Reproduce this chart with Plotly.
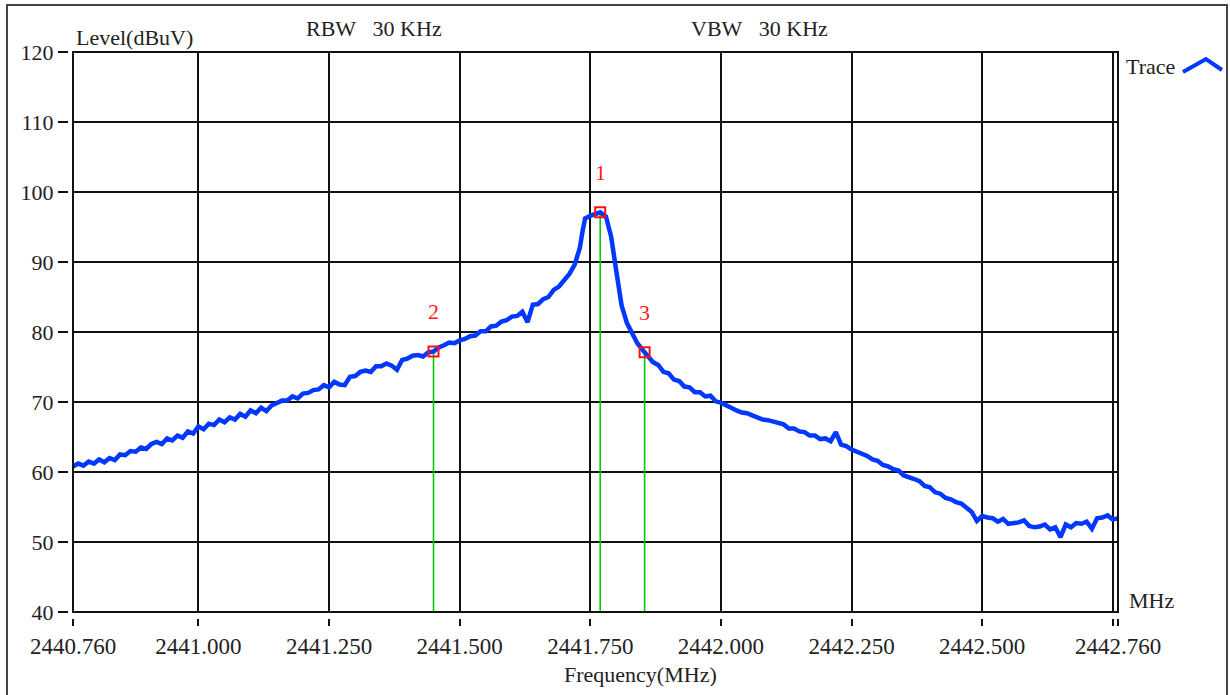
import plotly.graph_objects as go

# ---------------- data ----------------
freq_mhz = [
    2440.76, 2440.77, 2440.78, 2440.79, 2440.80, 2440.81, 2440.82, 2440.83, 2440.84, 2440.85,
    2440.86, 2440.87, 2440.88, 2440.89, 2440.90, 2440.91, 2440.92, 2440.93, 2440.94, 2440.95,
    2440.96, 2440.97, 2440.98, 2440.99, 2441.00, 2441.01, 2441.02, 2441.03, 2441.04, 2441.05,
    2441.06, 2441.07, 2441.08, 2441.09, 2441.10, 2441.11, 2441.12, 2441.13, 2441.14, 2441.15,
    2441.16, 2441.17, 2441.18, 2441.19, 2441.20, 2441.21, 2441.22, 2441.23, 2441.24, 2441.25,
    2441.26, 2441.27, 2441.28, 2441.29, 2441.30, 2441.31, 2441.32, 2441.33, 2441.34, 2441.35,
    2441.36, 2441.37, 2441.38, 2441.39, 2441.40, 2441.41, 2441.42, 2441.43, 2441.44, 2441.45,
    2441.46, 2441.47, 2441.48, 2441.49, 2441.50, 2441.51, 2441.52, 2441.53, 2441.54, 2441.55,
    2441.56, 2441.57, 2441.58, 2441.59, 2441.60, 2441.61, 2441.62, 2441.63, 2441.64, 2441.65,
    2441.66, 2441.67, 2441.68, 2441.69, 2441.70, 2441.71, 2441.72, 2441.73, 2441.735, 2441.74,
    2441.75, 2441.76, 2441.769, 2441.78, 2441.79, 2441.80, 2441.81, 2441.82, 2441.83, 2441.84,
    2441.854, 2441.86, 2441.87, 2441.88, 2441.89, 2441.90, 2441.91, 2441.92, 2441.93, 2441.94,
    2441.95, 2441.96, 2441.97, 2441.98, 2441.99, 2442.00, 2442.01, 2442.02, 2442.03, 2442.04,
    2442.05, 2442.06, 2442.07, 2442.08, 2442.09, 2442.10, 2442.11, 2442.12, 2442.13, 2442.14,
    2442.15, 2442.16, 2442.17, 2442.18, 2442.19, 2442.20, 2442.21, 2442.22, 2442.23, 2442.24,
    2442.25, 2442.26, 2442.27, 2442.28, 2442.29, 2442.30, 2442.31, 2442.32, 2442.33, 2442.34,
    2442.35, 2442.36, 2442.37, 2442.38, 2442.39, 2442.40, 2442.41, 2442.42, 2442.43, 2442.44,
    2442.45, 2442.46, 2442.47, 2442.48, 2442.49, 2442.50, 2442.51, 2442.52, 2442.53, 2442.54,
    2442.55, 2442.56, 2442.57, 2442.58, 2442.59, 2442.60, 2442.61, 2442.62, 2442.63, 2442.64,
    2442.65, 2442.66, 2442.67, 2442.68, 2442.69, 2442.70, 2442.71, 2442.72, 2442.73, 2442.74,
    2442.75, 2442.76,
]
level_dbuv = [
    60.8, 61.2, 60.9, 61.5, 61.2, 61.8, 61.4, 62.0, 61.7, 62.5,
    62.4, 63.0, 62.9, 63.5, 63.3, 64.0, 64.3, 64.0, 64.8, 64.5,
    65.2, 64.9, 65.8, 65.5, 66.5, 66.1, 66.9, 66.7, 67.5, 67.1,
    67.8, 67.5, 68.3, 67.9, 68.8, 68.4, 69.2, 68.7, 69.5, 69.8,
    70.2, 70.2, 70.8, 70.5, 71.2, 71.3, 71.7, 71.8, 72.4, 72.1,
    72.9, 72.5, 72.4, 73.6, 73.7, 74.3, 74.5, 74.3, 75.1, 75.1,
    75.5, 75.2, 74.6, 76.0, 76.2, 76.6, 76.7, 76.5, 77.1, 77.2,
    77.8, 78.1, 78.5, 78.4, 78.8, 79.0, 79.4, 79.5, 80.1, 80.1,
    80.8, 80.9, 81.5, 81.7, 82.2, 82.3, 82.9, 81.4, 83.9, 84.0,
    84.7, 85.0, 86.0, 86.5, 87.5, 88.3, 89.6, 92.0, 94.3, 96.2,
    96.6, 96.8, 97.1, 96.5, 93.6, 88.6, 83.8, 81.3, 79.7, 78.4,
    77.1, 76.6, 75.7, 75.3, 74.3, 74.1, 73.2, 73.0, 72.2, 72.1,
    71.4, 71.4, 70.8, 70.9, 70.1, 69.9, 69.5, 69.2, 68.8, 68.5,
    68.4, 68.1, 67.8, 67.5, 67.4, 67.2, 66.9, 66.8, 66.2, 66.2,
    65.8, 65.7, 65.2, 65.2, 64.7, 64.8, 64.4, 65.7, 63.9, 63.7,
    63.2, 62.9, 62.5, 62.3, 61.8, 61.6, 61.0, 60.8, 60.4, 60.2,
    59.5, 59.3, 59.0, 58.7, 58.0, 57.8, 57.1, 56.9, 56.3, 56.1,
    55.7, 55.5, 54.9, 54.3, 53.0, 53.7, 53.5, 53.4, 52.9, 53.3,
    52.6, 52.7, 52.8, 53.1, 52.3, 52.1, 52.2, 52.5, 51.8, 52.1,
    50.7, 52.5, 52.1, 52.7, 52.6, 52.9, 51.9, 53.4, 53.5, 53.8,
    53.2, 53.4,
]

marker_labels = ["1", "2", "3"]
marker_freq = [2441.769, 2441.45, 2441.854]
marker_level = [97.1, 77.2, 77.1]

x_tickvals = [2440.76, 2441.0, 2441.25, 2441.5, 2441.75, 2442.0, 2442.25, 2442.5, 2442.75, 2442.76]
x_ticktext = ["2440.760", "2441.000", "2441.250", "2441.500", "2441.750", "2442.000",
              "2442.250", "2442.500", "", "2442.760"]
y_tickvals = [40, 50, 60, 70, 80, 90, 100, 110, 120]

x_range = [2440.76, 2442.76]
y_range = [40, 120]

# ---------------- figure ----------------
SERIF = "Liberation Serif, Times New Roman, serif"
W, H = 1230, 695
L, R, T, B = 68, 112, 52, 77
pw, ph = W - L - R, H - T - B


def px(xp):
    return (xp - L) / pw


def py(yp):
    return (H - B - yp) / ph


fig = go.Figure()

# green marker drop lines
for f, lv in zip(marker_freq, marker_level):
    fig.add_trace(go.Scatter(x=[f, f], y=[y_range[0], lv], mode="lines",
                             line=dict(color="#00cc00", width=1.6),
                             showlegend=False, hoverinfo="skip"))

# main trace
fig.add_trace(go.Scatter(x=freq_mhz, y=level_dbuv, mode="lines", name="Trace",
                         line=dict(color="#0038ff", width=4.5), showlegend=False))

# markers
fig.add_trace(go.Scatter(x=marker_freq, y=marker_level, mode="markers",
                         marker=dict(symbol="square-open", size=10, color="#ff1010",
                                     line=dict(width=2, color="#ff1010")),
                         showlegend=False, hoverinfo="skip"))

for lab, f, lv in zip(marker_labels, marker_freq, marker_level):
    fig.add_annotation(x=f, y=lv, text=lab, showarrow=False, yshift=40,
                       font=dict(family=SERIF, size=22, color="#ff1a1a"))

dx0 = 5 / pw
dy0 = 6 / ph

fig.update_xaxes(range=x_range, domain=[dx0, 1], anchor="free", position=0,
                 tickvals=x_tickvals, ticktext=x_ticktext,
                 ticks="outside", ticklen=7, tickwidth=1.5, tickcolor="#111",
                 showgrid=True, gridcolor="#111", gridwidth=2,
                 showline=False, zeroline=False,
                 tickfont=dict(family=SERIF, size=23, color="#222"))
fig.update_yaxes(range=y_range, domain=[dy0, 1], anchor="free", position=0,
                 tickvals=y_tickvals,
                 ticks="outside", ticklen=10, tickwidth=1.5, tickcolor="#111",
                 showgrid=True, gridcolor="#111", gridwidth=2,
                 showline=False, zeroline=False,
                 tickfont=dict(family=SERIF, size=22, color="#222"))

shapes = [
    # plot border
    dict(type="rect", xref="x domain", yref="y domain", x0=0, x1=1, y0=0, y1=1,
         line=dict(color="#111", width=2), layer="above"),
    # outer frame
    dict(type="rect", xref="paper", yref="paper", x0=px(7), x1=px(1227),
         y0=py(702), y1=py(5), line=dict(color="#444", width=2), layer="below"),
    # legend symbol (chevron)
    dict(type="path", xref="paper", yref="paper",
         path=f"M {px(1183)},{py(72)} L {px(1206)},{py(59)} L {px(1222)},{py(70)}",
         line=dict(color="#0038ff", width=4)),
]

NB = "\u00a0"
annotations = [
    dict(text="Level(dBuV)", x=px(74), y=py(37), xanchor="left"),
    dict(text=f"RBW{NB*3}30 KHz", x=px(374), y=py(29), xanchor="center"),
    dict(text=f"VBW{NB*3}30 KHz", x=px(760), y=py(29), xanchor="center"),
    dict(text="Trace", x=px(1124), y=py(67), xanchor="left"),
    dict(text="MHz", x=px(1127), y=py(600), xanchor="left"),
    dict(text="Frequency(MHz)", x=px(640), y=py(674), xanchor="center"),
]
for a in annotations:
    fig.add_annotation(xref="paper", yref="paper", showarrow=False, yanchor="middle",
                       font=dict(family=SERIF, size=22, color="#222"), **a)

fig.update_layout(width=W, height=H, margin=dict(l=L, r=R, t=T, b=B, pad=0),
                  paper_bgcolor="white", plot_bgcolor="white", shapes=shapes,
                  showlegend=False)

fig.write_html("out.html")
